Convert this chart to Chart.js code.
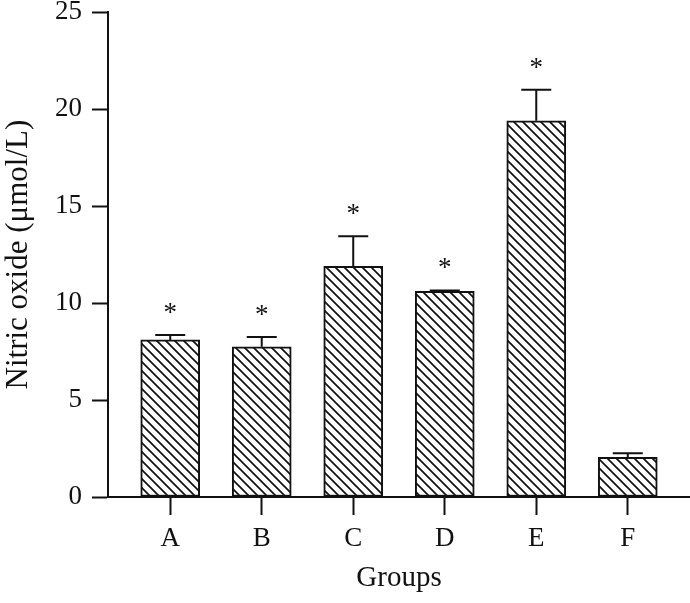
<!DOCTYPE html>
<html lang="en">
    <head>
        <meta charset="UTF-8" />
        <title>Nitric oxide by group</title>
        <script src="https://cdn.jsdelivr.net/npm/chart.js"></script>
        <style>
            html, body { margin: 0; padding: 0; background: #fff; overflow: hidden; }
            /* taller box shifted up so the plot top lands near the page edge */
            #wrap { width: 690px; height: 617px; margin-top: -14px; }
        </style>
    </head>
    <body>
        <div id="wrap"><canvas id="no"></canvas></div>

        <script>
            // Data
            const groups = ["A", "B", "C", "D", "E", "F"];
            const means = [8.1, 7.75, 11.9, 10.6, 19.4, 2.05];
            const errors = [0.25, 0.5, 1.55, 0.05, 1.6, 0.2];
            const significant = [true, true, true, true, true, false];
            const yTicks = [0, 5, 10, 15, 20, 25];

            const ink = "#111";
            const serif = "'Liberation Serif', 'DejaVu Serif', serif";

            // diagonal hatch fill
            function hatch() {
                const s = 9;
                const c = document.createElement("canvas");
                c.width = s;
                c.height = s;
                const g = c.getContext("2d");
                g.fillStyle = "#fff";
                g.fillRect(0, 0, s, s);
                g.strokeStyle = ink;
                g.lineWidth = 1.7;
                g.beginPath();
                g.moveTo(-1, -1); g.lineTo(s + 1, s + 1);
                g.moveTo(-1, s - 1); g.lineTo(1, s + 1);
                g.moveTo(s - 1, -1); g.lineTo(s + 1, 1);
                g.stroke();
                return c.getContext("2d").createPattern(c, "repeat");
            }

            // error bars + asterisks
            const extras = {
                id: "extras",
                afterDatasetsDraw(chart) {
                    const ctx = chart.ctx;
                    const xs = chart.scales.x;
                    const ys = chart.scales.y;
                    ctx.save();
                    ctx.strokeStyle = ink;
                    ctx.lineWidth = 2;
                    means.forEach((m, i) => {
                        const x = xs.getPixelForValue(i);
                        const y0 = ys.getPixelForValue(m);
                        const y1 = ys.getPixelForValue(m + errors[i]);
                        ctx.beginPath();
                        ctx.moveTo(x, y0);
                        ctx.lineTo(x, y1);
                        ctx.moveTo(x - 15, y1);
                        ctx.lineTo(x + 15, y1);
                        ctx.stroke();
                        if (significant[i]) {
                            ctx.fillStyle = ink;
                            ctx.font = "27px " + serif;
                            ctx.textAlign = "center";
                            ctx.textBaseline = "alphabetic";
                            ctx.fillText("*", x, y1 - 14);
                        }
                    });
                    ctx.restore();
                },
            };

            const ctx = document.getElementById("no").getContext("2d");
            new Chart(ctx, {
                type: "bar",
                data: {
                    datasets: [
                        {
                            data: means.map((v, i) => ({ x: i, y: v })),
                            backgroundColor: hatch(),
                            borderColor: ink,
                            borderWidth: 2,
                            borderSkipped: false,
                            barThickness: 59,
                        },
                    ],
                },
                options: {
                    responsive: true,
                    maintainAspectRatio: false,
                    animation: false,
                    layout: { padding: 0 },
                    plugins: {
                        legend: { display: false },
                        tooltip: { enabled: false },
                    },
                    scales: {
                        x: {
                            type: "linear",
                            offset: false,
                            min: -0.68,
                            max: 5.68,
                            afterBuildTicks: (s) => {
                                s.ticks = groups.map((g, i) => ({ value: i }));
                            },
                            afterFit: (s) => { s.height = 106; },
                            grid: {
                                offset: false,
                                drawOnChartArea: false,
                                drawTicks: true,
                                tickLength: 18,
                                tickWidth: 2,
                                tickColor: ink,
                            },
                            border: { display: true, width: 2, color: ink },
                            ticks: {
                                callback: (v) => groups[v],
                                color: ink,
                                font: { family: serif, size: 27 },
                                padding: 8,
                                maxRotation: 0,
                            },
                            title: {
                                display: true,
                                text: "Groups",
                                color: ink,
                                font: { family: serif, size: 29 },
                                padding: { top: 0, bottom: 7 },
                            },
                        },
                        y: {
                            min: 0,
                            max: 25,
                            afterBuildTicks: (s) => {
                                s.ticks = yTicks.map((v) => ({ value: v }));
                            },
                            afterFit: (s) => { s.width = 108; },
                            grid: {
                                drawOnChartArea: false,
                                drawTicks: true,
                                tickLength: 16,
                                tickWidth: 2,
                                tickColor: ink,
                            },
                            border: { display: true, width: 2, color: ink },
                            ticks: {
                                color: ink,
                                font: { family: serif, size: 27 },
                                padding: 10,
                            },
                            title: {
                                display: true,
                                text: "Nitric oxide (μmol/L)",
                                color: ink,
                                font: { family: serif, size: 31 },
                                padding: { top: 0, bottom: 0 },
                            },
                        },
                    },
                },
                plugins: [extras],
            });
        </script>
    </body>
</html>
